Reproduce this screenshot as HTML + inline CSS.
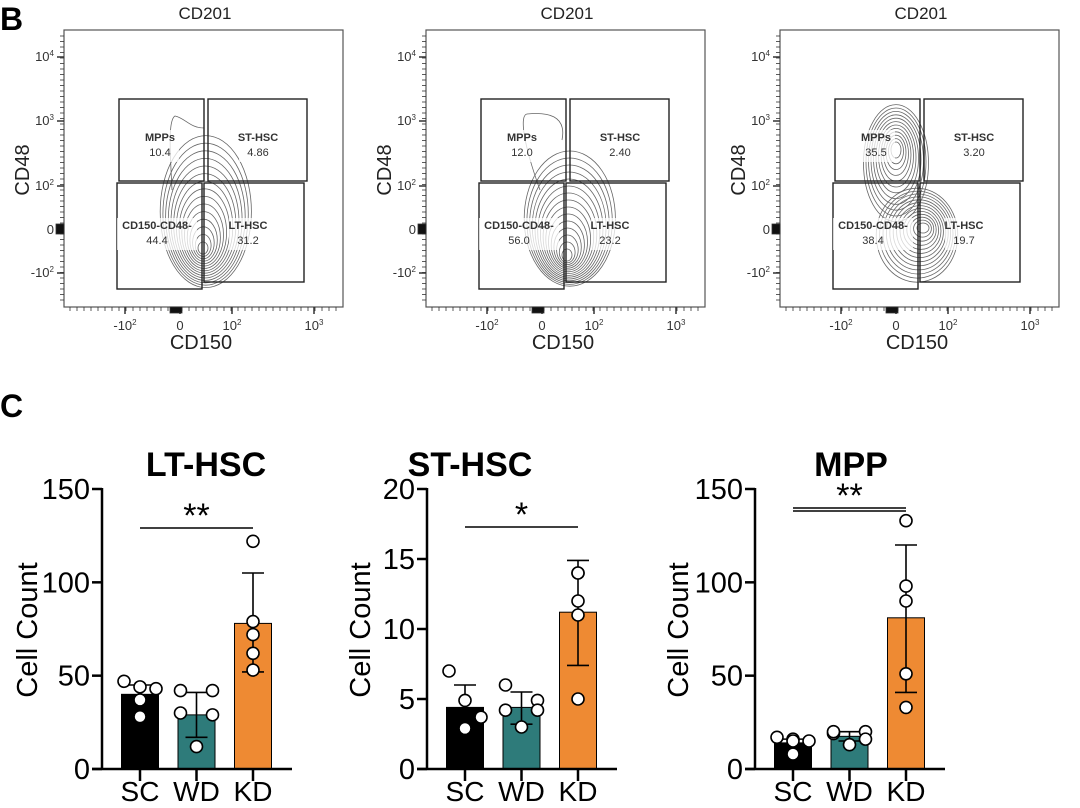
<!DOCTYPE html>
<html><head><meta charset="utf-8"><style>
body{margin:0;background:#fff;}
svg{display:block;font-family:"Liberation Sans",sans-serif;}
</style></head><body>
<svg id="fig" width="1080" height="808" viewBox="0 0 1080 808"></svg>
<script>
// ---- bar chart data ----
const groups = ["SC","WD","KD"];
const ltMeans = [40, 29, 78];
const ltErrLo = [34, 17, 52];
const ltErrHi = [45, 41, 105];
const ltPoints = [[47,44,43,37,28],[42,42,30,29,12],[122,79,72,62,53]];
const stMeans = [4.4, 4.4, 11.2];
const stErrLo = [3.5, 3.2, 7.4];
const stErrHi = [6.0, 5.5, 14.9];
const stPoints = [[7.0,4.9,3.7,2.9,2.9],[6.0,4.9,4.2,4.2,3.0],[14.0,14.0,12.0,11.0,5.0]];
const mppMeans = [14, 17.5, 81];
const mppErrLo = [12, 15, 41];
const mppErrHi = [16, 20, 120];
const mppPoints = [[17,16,15,15,8],[19,20,20,16,13],[133,98,90,51,33]];
const ltTicks = [0,50,100,150];
const stTicks = [0,5,10,15,20];
const mppTicks = [0,50,100,150];
// ---- flow data ----
const gateLabels = ["MPPs","ST-HSC","CD150-CD48-","LT-HSC"];
const gatePct = [["10.4","4.86","44.4","31.2"],["12.0","2.40","56.0","23.2"],["35.5","3.20","38.4","19.7"]];

const NS="http://www.w3.org/2000/svg";
const svg=document.getElementById('fig');
function mk(tag,attrs,parent,txt){const e=document.createElementNS(NS,tag);for(const k in attrs)e.setAttribute(k,attrs[k]);if(txt!==undefined)e.textContent=txt;(parent||svg).appendChild(e);return e;}

let t=mk('text',{x:0,y:30,'font-size':32,'font-weight':'bold'},svg,'B');

t=mk('text',{x:0,y:417,'font-size':32,'font-weight':'bold'},svg,'C');


const offsets=[0,362,716];
offsets.forEach((dx,pi)=>{
  const g=mk('g',{transform:'translate('+dx+',0)'});
  
  
  let e=mk('text',{x:205,y:19,'font-size':17,'text-anchor':'middle',fill:'#222'},g,'CD201');
  
  e=mk('rect',{x:64,y:30,width:279,height:277,fill:'none',stroke:'#555','stroke-width':1.2},g);
  
  const cg=mk('g',{fill:'none',stroke:'#666','stroke-width':0.8},g);
  
  if(pi<2){
    const cx= pi==0?203:205, cy0= pi==0?248:255;
    for(let k=0;k<15;k++){mk('ellipse',{cx:cx+k*0.2,cy:cy0-2.6*k,rx:5+2.9*k,ry:6+(pi==0?5:4.4)*k},cg);}
    mk('path',{d:pi==0?'M172 190 C170 150 168 120 175 116 C185 118 190 128 204 128':'M178 190 C160 140 158 115 165 114 C185 112 205 115 200 140'},cg);
  } else {
    for(let k=0;k<12;k++){mk('ellipse',{cx:180,cy:150+k*1.2,rx:5+2.5*k,ry:8+4.6*k},cg);}
    for(let k=0;k<13;k++){mk('ellipse',{cx:207-k*0.5,cy:228+k*0.6,rx:6+2.9*k,ry:5+3.5*k},cg);}
  }
  const gates=[[119,99,85,82],[208,99,99,82],[117,183,85,106],[204,183,100,99]];
  const lp=[[160,141],[258,141],[157,229],[248,229]];
  gates.forEach((r,i)=>{
    let q=mk('rect',{x:r[0],y:r[1],width:r[2],height:r[3],fill:'none',stroke:'#222','stroke-width':1.4},g);
    
    mk('rect',{x:lp[i][0]-(i==2?40:19),y:lp[i][1]-11,width:i==2?80:38,height:32,fill:'#fff',opacity:0.75},g);
    q=mk('text',{x:lp[i][0],y:lp[i][1],'font-size':11,'text-anchor':'middle',fill:'#333','font-weight':'bold'},g,gateLabels[i]);
    
    q=mk('text',{x:lp[i][0],y:lp[i][1]+15,'font-size':11,'text-anchor':'middle',fill:'#333'},g,gatePct[pi][i]);
    
  });
  const ay=mk('g',{stroke:'#333','stroke-width':0.8},g);
  
  for(let y=36;y<305;y+=5.5){mk('line',{x1:60,x2:64,y1:y,y2:y},ay);}
  [57,121,186,273].forEach(y=>mk('line',{x1:57,x2:64,y1:y,y2:y,'stroke-width':1.5},ay));
  mk('rect',{x:56,y:224,width:8,height:10,fill:'#111'},ay);
  const yl=[['10','4',61],['10','3',125],['10','2',190],['0','',234],['-10','2',277]];
  yl.forEach(l=>{const tt=mk('text',{x:54,y:l[2],'font-size':13,'text-anchor':'end',fill:'#333',stroke:'none'},g);
    
    tt.appendChild(document.createTextNode(l[0]));
    if(l[1]){mk('tspan',{dy:-5,'font-size':8},tt,l[1]);}
  });
  const ax=mk('g',{stroke:'#333','stroke-width':0.8},g);
  
  for(let x=70;x<340;x+=7){mk('line',{x1:x,x2:x,y1:307,y2:311},ax);}
  [125,180,232,314].forEach(x=>mk('line',{x1:x,x2:x,y1:307,y2:314,'stroke-width':1.5},ax));
  mk('rect',{x:170,y:307,width:12,height:6,fill:'#111'},ax);
  const xl=[['-10','2',125],['0','',180],['10','2',232],['10','3',314]];
  xl.forEach(l=>{const tt=mk('text',{x:l[2],y:330,'font-size':13,'text-anchor':'middle',fill:'#333',stroke:'none'},g);
    
    tt.appendChild(document.createTextNode(l[0]));
    if(l[1]){mk('tspan',{dy:-5,'font-size':8},tt,l[1]);}
  });
  e=mk('text',{x:201,y:349,'font-size':20,'text-anchor':'middle',fill:'#222'},g,'CD150');
  
  e=mk('text',{x:0,y:0,'font-size':20,'text-anchor':'middle',fill:'#222',transform:'translate(29,170) rotate(-90)'},g,'CD48');
  
});

const colors=['#000000','#2e7b7a','#ee8a33'];
const jitter=[[-16,0,16,0,0],[-16,16,-16,16,0],[0,0,0,0,0]];
function bar(cfg){
  const g=mk('g',{});
  
  const y0=769,y1=489,ymax=cfg.ticks[cfg.ticks.length-1];
  const Y=v=>y0-(v/ymax)*(y0-y1);
  const X=i=>cfg.ax+38+i*56.5;
  let e=mk('text',{x:cfg.tx,y:476,'font-size':34,'font-weight':'bold','text-anchor':'middle'},g,cfg.title);
  
  e=mk('text',{x:0,y:0,'font-size':29,'text-anchor':'middle',transform:'translate('+cfg.yt+',630) rotate(-90)'},g,'Cell Count');
  
  groups.forEach((gn,i)=>{
    const r=mk('rect',{x:X(i)-18.5,y:Y(cfg.means[i]),width:37,height:y0-Y(cfg.means[i]),fill:colors[i],stroke:'#000','stroke-width':1},g);
    
    const eb=mk('g',{stroke:'#000','stroke-width':1.6},g);
    
    mk('line',{x1:X(i),x2:X(i),y1:Y(cfg.lo[i]),y2:Y(cfg.hi[i])},eb);
    mk('line',{x1:X(i)-11,x2:X(i)+11,y1:Y(cfg.hi[i]),y2:Y(cfg.hi[i])},eb);
    mk('line',{x1:X(i)-11,x2:X(i)+11,y1:Y(cfg.lo[i]),y2:Y(cfg.lo[i])},eb);
    cfg.pts[i].forEach((v,j)=>{
      const c=mk('circle',{cx:X(i)+(i==2?0:jitter[i][j]),cy:Y(v),r:6,fill:'#fff',stroke:'#000','stroke-width':1.6},g);
      
    });
  });
  const ax=mk('g',{stroke:'#000','stroke-width':2.5},g);
  
  mk('line',{x1:cfg.ax,x2:cfg.ax,y1:y1-1,y2:y0+1},ax);
  mk('line',{x1:cfg.ax-10,x2:cfg.ax+190,y1:y0,y2:y0},ax);
  cfg.ticks.forEach(v=>{mk('line',{x1:cfg.ax-10,x2:cfg.ax,y1:Y(v),y2:Y(v)},ax);
    const tl=mk('text',{x:cfg.ax-12,y:Y(v)+10,'font-size':29,'text-anchor':'end',stroke:'none'},g,String(v));
    });
  groups.forEach((gn,i)=>{mk('line',{x1:X(i),x2:X(i),y1:y0,y2:y0+12},ax);
    const tl=mk('text',{x:X(i),y:801,'font-size':28,'text-anchor':'middle',stroke:'none'},g,gn);
    });
  const sg=mk('g',{stroke:'#000','stroke-width':1.5},g);
  
  mk('line',{x1:X(0),x2:X(2),y1:cfg.sy,y2:cfg.sy},sg);
  if(cfg.dbl)mk('line',{x1:X(0),x2:X(2),y1:cfg.sy+3,y2:cfg.sy+3},sg);
  e=mk('text',{x:(X(0)+X(2))/2,y:cfg.sy-1,'font-size':34,'text-anchor':'middle'},g,cfg.star);
  
}
bar({name:'lt-hsc-chart',title:'LT-HSC',tx:206,ax:102,yt:37,means:ltMeans,lo:ltErrLo,hi:ltErrHi,pts:ltPoints,ticks:ltTicks,sy:528,star:'**'});
bar({name:'st-hsc-chart',title:'ST-HSC',tx:470,ax:427,yt:370,means:stMeans,lo:stErrLo,hi:stErrHi,pts:stPoints,ticks:stTicks,sy:527,star:'*'});
bar({name:'mpp-chart',title:'MPP',tx:851,ax:755,yt:688,means:mppMeans,lo:mppErrLo,hi:mppErrHi,pts:mppPoints,ticks:mppTicks,sy:508,star:'**',dbl:true});
</script>
</body></html>
